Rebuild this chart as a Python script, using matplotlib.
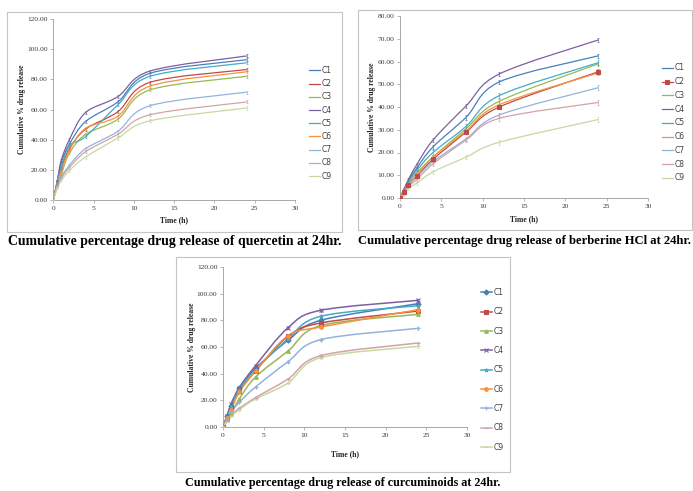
import numpy as np
import matplotlib
matplotlib.use('Agg')
from matplotlib import pyplot as plt
from matplotlib.path import Path
from matplotlib.patches import PathPatch, Rectangle
from matplotlib.lines import Line2D

# sampling times (h)
time = [0, 0.5, 1, 2, 4, 8, 12, 24]
names = ['C1', 'C2', 'C3', 'C4', 'C5', 'C6', 'C7', 'C8', 'C9']

# cumulative % drug release - quercetin
q_C1 = [0, 12.5, 25, 37, 52, 65, 84, 93]
q_C2 = [0, 11, 21, 34, 47, 58.5, 78, 86.5]
q_C3 = [0, 9.5, 17, 31, 43.5, 53.5, 73, 82]
q_C4 = [0, 13, 26.5, 40, 58, 68.5, 85.5, 95.5]
q_C5 = [0, 11.5, 22, 36, 42, 63, 82, 91]
q_C6 = [0, 10.5, 19, 33, 47.5, 55.5, 75.5, 85]
q_C7 = [0, 9, 15.5, 23, 34, 45.5, 62.5, 71.5]
q_C8 = [0, 8.5, 14.5, 21.5, 32, 43.5, 56.5, 65]
q_C9 = [0, 8, 13, 19.5, 28.5, 41, 52.5, 61]

# berberine HCl
b_C1 = [0, 3.5, 7.5, 13, 22.5, 35.5, 51, 62.5]
b_C2 = [0, 2.5, 5.5, 9.5, 17, 29, 40, 55.5]
b_C3 = [0, 3, 6.5, 11, 18, 30.5, 42.5, 59]
b_C4 = [0, 4, 8, 14.5, 25.5, 40.5, 54.5, 69.5]
b_C5 = [0, 3.5, 7, 12, 20, 31.5, 45, 59.5]
b_C6 = [0, 3, 6, 10, 18, 29.5, 41, 55]
b_C7 = [0, 2.5, 5.5, 9, 16, 26, 36.5, 48.5]
b_C8 = [0, 2, 5, 8, 15, 25.5, 35, 42]
b_C9 = [0, 1.5, 4, 6.5, 11.5, 18, 24.5, 34.5]

# curcuminoids
c_C1 = [0, 8, 16, 29, 44, 65, 80, 92.5]
c_C2 = [0, 7, 14, 27, 42, 68, 78, 87]
c_C3 = [0, 5, 10, 21, 37.5, 57, 76, 84.5]
c_C4 = [0, 8.5, 17.5, 29.5, 46, 74.5, 87.5, 95]
c_C5 = [0, 7.5, 15, 28, 43, 66, 83, 91]
c_C6 = [0, 6.5, 13, 26, 42, 68.5, 75, 88]
c_C7 = [0, 5, 11, 18.5, 30, 49, 65.5, 74]
c_C8 = [0, 4.5, 9, 14, 22, 36, 53.5, 63]
c_C9 = [0, 4, 8, 13, 21, 33, 52, 60.5]

# small error bars seen on the points
sd = [0, 0.5, 0.6, 0.8, 1.0, 1.0, 1.0, 1.0]

colors = ['#4A7EBB', '#BE4B48', '#98B954', '#7D60A0', '#46AAC5',
          '#F69240', '#93B3DB', '#D3A3A6', '#C6D9A0']

SERIF = 'Liberation Serif'


def smooth_path(x, y):
    # excel-like smoothed line: bezier segments through the points
    x = np.asarray(x, float)
    y = np.asarray(y, float)
    n = len(x)
    verts = [(x[0], y[0])]
    codes = [Path.MOVETO]
    for i in range(n - 1):
        i0 = max(i - 1, 0)
        i3 = min(i + 2, n - 1)
        c1 = (x[i] + (x[i + 1] - x[i0]) / 6, y[i] + (y[i + 1] - y[i0]) / 6)
        c2 = (x[i + 1] - (x[i3] - x[i]) / 6, y[i + 1] - (y[i3] - y[i]) / 6)
        verts += [c1, c2, (x[i + 1], y[i + 1])]
        codes += [Path.CURVE4] * 3
    return Path(verts, codes)


def draw_panel(fig, rect, series, ymax, ystep, markers, lw, ms,
               ylab_x, xlab_y, leg_xy, leg_space):
    ax = fig.add_axes(rect)
    handles = []
    for k, ys in enumerate(series):
        c = colors[k]
        ax.add_patch(PathPatch(smooth_path(time, ys), fill=False,
                               edgecolor=c, lw=lw, zorder=2))
        m = markers[k]
        ax.errorbar(time, ys, yerr=sd, fmt='none', ecolor=c, elinewidth=0.5,
                    capsize=1.0, capthick=0.5, zorder=3)
        if m is not None:
            ax.plot(time, ys, linestyle='none', marker=m, color=c, ms=ms,
                    mew=0.8, zorder=4)
        handles.append(Line2D([], [], color=c, lw=lw, marker=m, ms=ms, mew=0.8))

    ax.set_xlim(0, 30)
    ax.set_ylim(0, ymax)
    ax.set_xticks(range(0, 31, 5))
    yt = np.arange(0, ymax + 0.1, ystep)
    ax.set_yticks(yt)
    ax.set_yticklabels(['%.2f' % v for v in yt])
    for s in ['top', 'right']:
        ax.spines[s].set_visible(False)
    for s in ['left', 'bottom']:
        ax.spines[s].set_color('#9a9a9a')
        ax.spines[s].set_linewidth(0.6)
    ax.tick_params(axis='both', length=2, width=0.5, color='#9a9a9a',
                   labelsize=5.4, pad=2, labelcolor='#3a3a3a')
    for t in ax.get_xticklabels() + ax.get_yticklabels():
        t.set_family(SERIF)

    x0 = rect[0]
    fig.text(ylab_x, rect[1] + rect[3] / 2, 'Cumulative % drug release',
             rotation=90, ha='center', va='center', fontsize=5.5,
             fontweight='bold', family=SERIF, color='#222222')
    fig.text(x0 + rect[2] / 2, xlab_y, 'Time (h)', ha='center', va='center',
             fontsize=5.5, fontweight='bold', family=SERIF, color='#222222')

    fig.legend(handles, names, loc='upper left', bbox_to_anchor=leg_xy,
               frameon=False, handlelength=1.4, labelcolor='#404040',
               handletextpad=0.3, borderpad=0, borderaxespad=0,
               labelspacing=leg_space, prop={'family': 'DejaVu Sans', 'size': 5.5})
    return ax


W, H = 693, 491
fig = plt.figure(figsize=(W / 100, H / 100), dpi=100)


def fx(px):
    return px / W


def fy(px):
    return 1 - px / H


# frames around each chart
for (l, t, r, b) in [(7, 12, 342, 232), (358, 10, 692, 230), (176, 257, 510, 472)]:
    fig.add_artist(Rectangle((fx(l), fy(b)), fx(r - l), (b - t) / H,
                             transform=fig.transFigure, fill=False,
                             edgecolor='#c4c4c4', lw=0.8))

plain = [None] * 9
mk3 = ['D', 's', '^', 'x', '*', 'o', '+', '_', '_']
mk2 = [None, 's', None, None, None, None, None, None, None]

draw_panel(fig, [fx(53.3), fy(200), fx(295 - 53.3), 181 / H],
           [q_C1, q_C2, q_C3, q_C4, q_C5, q_C6, q_C7, q_C8, q_C9],
           120, 20, plain, 0.9, 2.5,
           fx(22), fy(220), (fx(309), fy(66)), 0.55)

draw_panel(fig, [fx(400), fy(198), fx(248), 182 / H],
           [b_C1, b_C2, b_C3, b_C4, b_C5, b_C6, b_C7, b_C8, b_C9],
           80, 10, mk2, 0.9, 2.5,
           fx(372), fy(219), (fx(662), fy(63.5)), 0.62)

draw_panel(fig, [fx(223), fy(427), fx(244), 160 / H],
           [c_C1, c_C2, c_C3, c_C4, c_C5, c_C6, c_C7, c_C8, c_C9],
           120, 20, mk3, 1.1, 2.6,
           fx(192), fy(454), (fx(481), fy(288)), 1.35)

cap = dict(fontweight='bold', family=SERIF, va='center', color='black')
fig.text(fx(8), fy(241), 'Cumulative percentage drug release of quercetin at 24hr.',
         ha='left', fontsize=9.9, **cap)
fig.text(fx(358), fy(241), 'Cumulative percentage drug release of berberine HCl at 24hr.',
         ha='left', fontsize=9.1, **cap)
fig.text(fx(343), fy(483), 'Cumulative percentage drug release of curcuminoids at 24hr.',
         ha='center', fontsize=8.7, **cap)

fig.savefig('out.png', dpi=100)
